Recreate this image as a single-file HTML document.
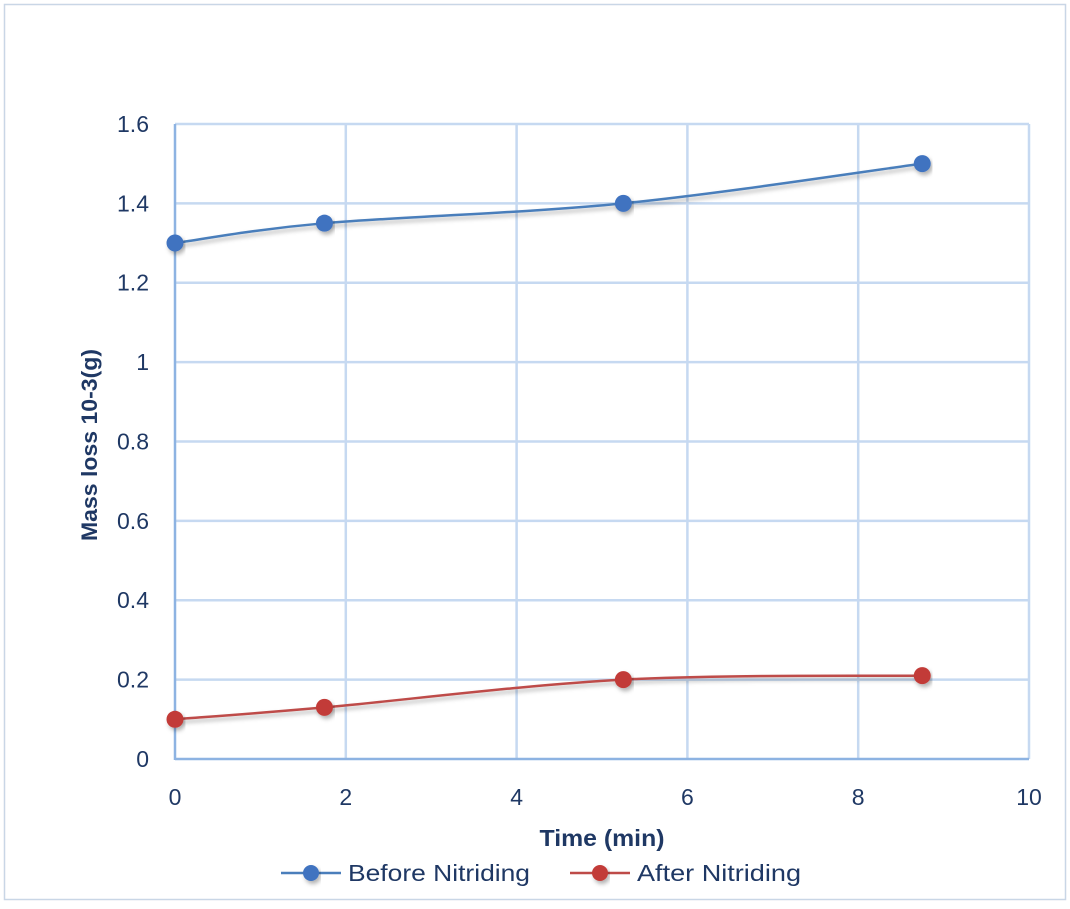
<!DOCTYPE html>
<html><head><meta charset="utf-8"><style>
body{margin:0;background:#fff;}
svg text{font-family:"Liberation Sans",sans-serif;}
</style></head><body>
<svg id="chart" width="1070" height="904" viewBox="0 0 1070 904" xmlns="http://www.w3.org/2000/svg">
<defs><filter id="sh" x="-10%" y="-50%" width="120%" height="200%"><feDropShadow dx="2" dy="3" stdDeviation="2" flood-color="#000" flood-opacity="0.3"/></filter></defs>
<rect x="4.5" y="4.5" width="1061" height="895" fill="#fff" stroke="#c9d6e6" stroke-width="1.5"/>
<g id="grid"></g><g id="axes"></g><g id="series"></g>
<text transform="translate(97,445) rotate(-90)" text-anchor="middle" font-size="22" font-weight="bold" fill="#1f3864" textLength="192" lengthAdjust="spacingAndGlyphs">Mass loss 10-3(g)</text>
<text x="602" y="846" text-anchor="middle" font-size="23" font-weight="bold" fill="#1f3864" textLength="125" lengthAdjust="spacingAndGlyphs">Time (min)</text>
<g>
<g><line x1="281" y1="873" x2="341" y2="873" stroke="#4a7ebb" stroke-width="2.5"/><circle cx="311" cy="873" r="8" fill="#3f73c0" filter="url(#sh)"/><text x="348" y="881" font-size="23" fill="#1f3864" textLength="182" lengthAdjust="spacingAndGlyphs">Before Nitriding</text></g>
<g><line x1="570" y1="873" x2="630" y2="873" stroke="#be4b48" stroke-width="2.5"/><circle cx="600" cy="873" r="8" fill="#c23b37" filter="url(#sh)"/><text x="637" y="881" font-size="23" fill="#1f3864" textLength="164" lengthAdjust="spacingAndGlyphs">After Nitriding</text></g>
</g>
</svg>
<script>
const xs=[0,1.75,5.25,8.75];
const before=[1.3,1.35,1.4,1.5];
const after=[0.1,0.13,0.2,0.21];
const yTicks=[0,0.2,0.4,0.6,0.8,1,1.2,1.4,1.6];
const yLabels=["0","0.2","0.4","0.6","0.8","1","1.2","1.4","1.6"];
const xTicks=[0,2,4,6,8,10];
const NS="http://www.w3.org/2000/svg";
const X=v=>175+v*85.4, Y=v=>759-v*396.9;
function mk(t,a,p){const e=document.createElementNS(NS,t);for(const k in a)e.setAttribute(k,a[k]);p.appendChild(e);return e;}
const grid=document.getElementById('grid'),axes=document.getElementById('axes'),ser=document.getElementById('series');
yTicks.forEach((v,i)=>{
 if(v>0){const l=mk('line',{x1:X(0),x2:X(10),y1:Y(v),y2:Y(v),stroke:'#c6d9f1','stroke-width':2.5},grid);
 
 }
 const t=mk('text',{x:149,y:Y(v)+8,'text-anchor':'end','font-size':23,fill:'#1f3864'},axes);t.textContent=yLabels[i];
 
 
});
xTicks.forEach(v=>{
 if(v>0){const l=mk('line',{x1:X(v),x2:X(v),y1:Y(0),y2:Y(1.6),stroke:'#c6d9f1','stroke-width':2.5},grid);
 
 }
 const t=mk('text',{x:X(v),y:805,'text-anchor':'middle','font-size':23,fill:'#1f3864'},axes);t.textContent=String(v);
 
 
});
const ya=mk('line',{x1:X(0),x2:X(0),y1:Y(0)+1,y2:Y(1.6),stroke:'#8db3e2','stroke-width':2.5},axes);


const xa=mk('line',{x1:X(0),x2:X(10),y1:Y(0),y2:Y(0),stroke:'#8db3e2','stroke-width':2.5},axes);


function smooth(p){let d=`M${p[0][0]},${p[0][1]}`;const t=0.5/3*2;
 for(let i=0;i<p.length-1;i++){const p0=p[Math.max(i-1,0)],p1=p[i],p2=p[i+1],p3=p[Math.min(i+2,p.length-1)];
 const c1=[p1[0]+(p2[0]-p0[0])*t/2,p1[1]+(p2[1]-p0[1])*t/2],c2=[p2[0]-(p3[0]-p1[0])*t/2,p2[1]-(p3[1]-p1[1])*t/2];
 d+=` C${c1[0]},${c1[1]} ${c2[0]},${c2[1]} ${p2[0]},${p2[1]}`;}return d;}
function draw(vals,line,fill,name){
 const pts=xs.map((x,i)=>[X(x),Y(vals[i])]);
 const p=mk('path',{d:smooth(pts),fill:'none',stroke:line,'stroke-width':2.5,filter:'url(#sh)'},ser);
 
 
 pts.forEach(q=>{const c=mk('circle',{cx:q[0],cy:q[1],r:8.5,fill:fill,filter:'url(#sh)'},ser);
 
 });
}
draw(before,'#4a7ebb','#3f73c0','before-nitriding');
draw(after,'#be4b48','#c23b37','after-nitriding');
</script>
</body></html>
